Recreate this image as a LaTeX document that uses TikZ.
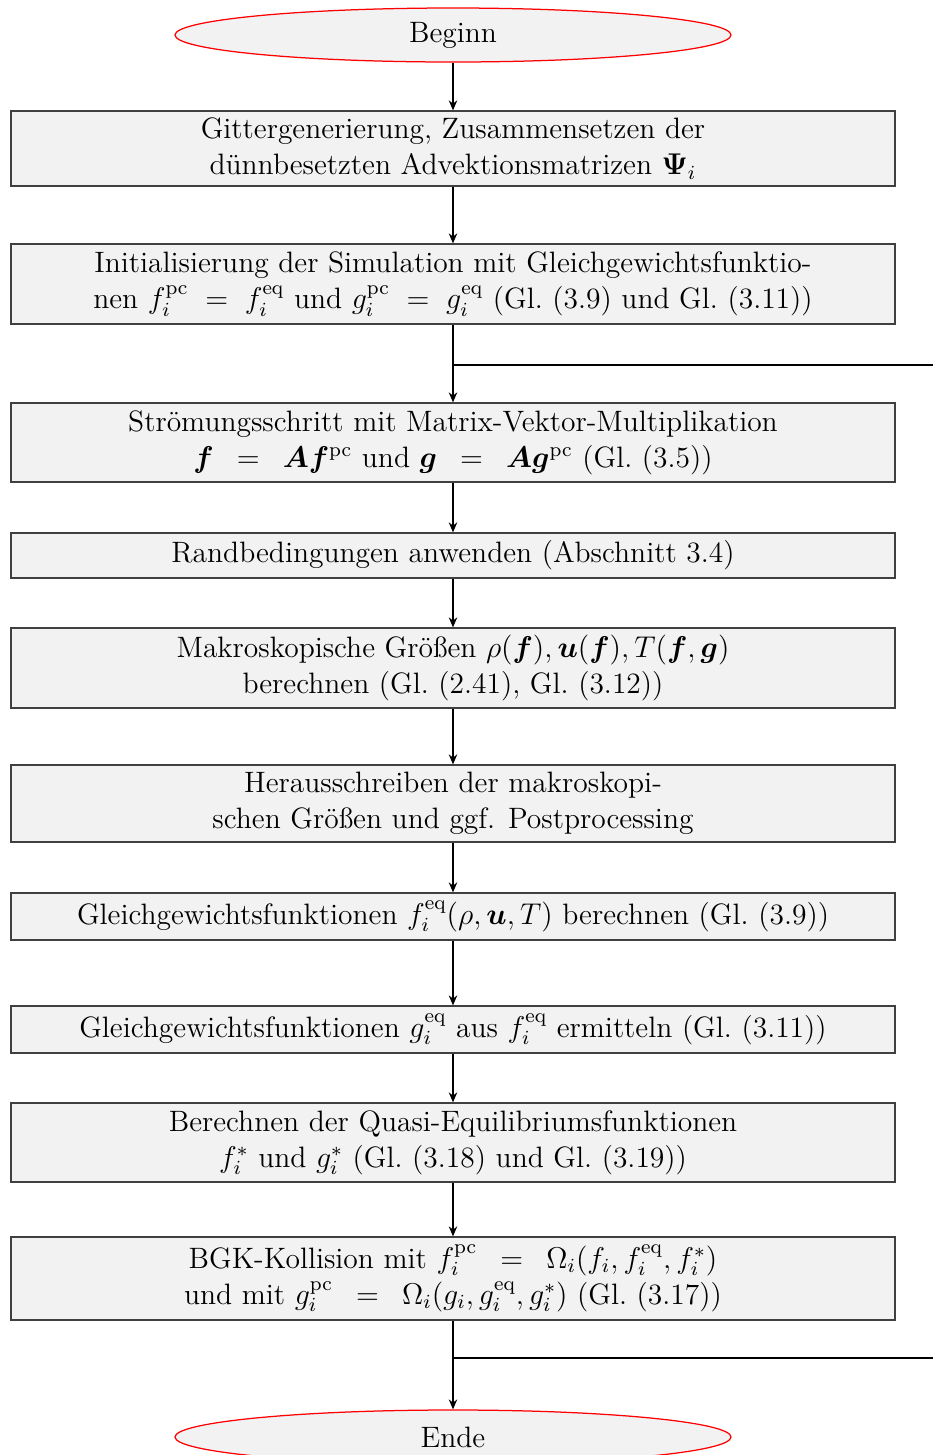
\documentclass[tikz,border=0pt]{standalone}
\usepackage{amsmath,amssymb,bm}
\usetikzlibrary{shapes.geometric,arrows.meta}
\begin{document}
\begin{tikzpicture}[x=0.4pt,y=-0.4pt,
  every node/.style={font=\fontsize{11.8}{14.5}\selectfont},
  procbox/.style={rectangle,draw=black!75,line width=0.5pt,fill=black!5,minimum width=353.6pt,inner sep=0pt,align=center},
  term/.style={ellipse,draw=red,line width=0.5pt,fill=black!5,minimum width=222.4pt,minimum height=21.6pt,inner sep=0pt},
  flow/.style={-{Stealth[length=4pt,width=3.4pt]},line width=0.6pt},
  loopline/.style={line width=1pt}]
\useasboundingbox (0,0) rectangle (933,1455);
\node[term] (beg) at (453,35) {Beginn};
\node[procbox,minimum height=30pt] (b1) at (453,148.5) {Gittergenerierung, Zusammensetzen der\\ dünnbesetzten Advektionsmatrizen $\boldsymbol{\Psi}_i$};
\node[procbox,minimum height=32pt] (b2) at (453,284) {Initialisierung der Simulation mit Gleichgewichtsfunktio-\\ nen $f_i^{\mathrm{pc}}\;=\;f_i^{\mathrm{eq}}$ und $g_i^{\mathrm{pc}}\;=\;g_i^{\mathrm{eq}}$ (Gl.~(3.9) und Gl.~(3.11))};
\node[procbox,minimum height=31.6pt] (b3) at (453,442.5) {Strömungsschritt mit Matrix-Vektor-Multiplikation\\ $\boldsymbol{f}\enspace=\enspace\boldsymbol{A}\boldsymbol{f}^{\mathrm{pc}}$ und $\boldsymbol{g}\enspace=\enspace\boldsymbol{A}\boldsymbol{g}^{\mathrm{pc}}$ (Gl.~(3.5))};
\node[procbox,minimum height=18pt] (b4) at (453,555.5) {Randbedingungen anwenden (Abschnitt 3.4)};
\node[procbox,minimum height=32pt] (b5) at (453,668) {Makroskopische Größen $\rho(\boldsymbol{f}),\boldsymbol{u}(\boldsymbol{f}),T(\boldsymbol{f},\boldsymbol{g})$\\ berechnen (Gl.~(2.41), Gl.~(3.12))};
\node[procbox,minimum height=30.8pt] (b6) at (453,803.5) {Herausschreiben der makroskopi-\\ schen Größen und ggf. Postprocessing};
\node[procbox,minimum height=18.8pt] (b7) at (453,916.5) {Gleichgewichtsfunktionen $f_i^{\mathrm{eq}}(\rho,\boldsymbol{u},T)$ berechnen (Gl.~(3.9))};
\node[procbox,minimum height=18.8pt] (b8) at (453,1029.5) {Gleichgewichtsfunktionen $g_i^{\mathrm{eq}}$ aus $f_i^{\mathrm{eq}}$ ermitteln (Gl.~(3.11))};
\node[procbox,minimum height=31.6pt] (b9) at (453,1142.5) {Berechnen der Quasi-Equilibriumsfunktionen\\ $f_i^{*}$ und $g_i^{*}$ (Gl.~(3.18) und Gl.~(3.19))};
\node[procbox,minimum height=33.2pt] (b10) at (453,1278.5) {BGK-Kollision mit $f_i^{\mathrm{pc}}\enspace=\enspace\Omega_i(f_i,f_i^{\mathrm{eq}},f_i^{*})$\\ und mit $g_i^{\mathrm{pc}}\enspace=\enspace\Omega_i(g_i,g_i^{\mathrm{eq}},g_i^{*})$ (Gl.~(3.17))};
\node[term] (end) at (453,1437) {Ende};
\draw[flow] (beg) -- (b1);
\draw[flow] (b1) -- (b2);
\draw[flow] (b2) -- (b3);
\draw[flow] (b3) -- (b4);
\draw[flow] (b4) -- (b5);
\draw[flow] (b5) -- (b6);
\draw[flow] (b6) -- (b7);
\draw[flow] (b7) -- (b8);
\draw[flow] (b8) -- (b9);
\draw[flow] (b9) -- (b10);
\draw[flow] (b10) -- (end);
\coordinate (j1) at (453,365);
\coordinate (r1) at (933,365);
\coordinate (j2) at (453,1358);
\coordinate (r2) at (933,1358);
\draw[loopline] (j1) -- (r1);
\draw[loopline] (j2) -- (r2);
\end{tikzpicture}
\end{document}
